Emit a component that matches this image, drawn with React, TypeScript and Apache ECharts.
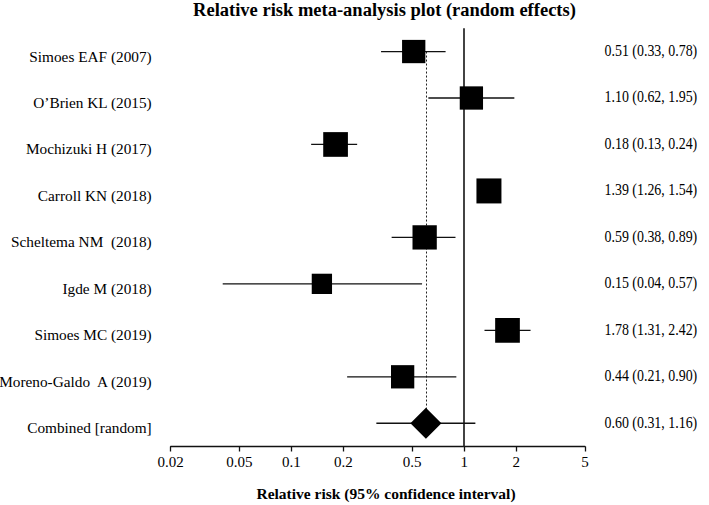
import React, { useEffect, useRef } from "react";
import * as echarts from "echarts";

const studies = [
  "Simoes EAF (2007)",
  "O\u2019Brien KL (2015)",
  "Mochizuki H (2017)",
  "Carroll KN (2018)",
  "Scheltema NM  (2018)",
  "Igde M (2018)",
  "Simoes MC (2019)",
  "Moreno-Galdo  A (2019)",
  "Combined [random]",
];
const relRisk = [0.51, 1.1, 0.18, 1.39, 0.59, 0.15, 1.78, 0.44, 0.6];
const lowerCI = [0.33, 0.62, 0.13, 1.26, 0.38, 0.04, 1.31, 0.21, 0.31];
const upperCI = [0.78, 1.95, 0.24, 1.54, 0.89, 0.57, 2.42, 0.9, 1.16];
const tickValues = [0.02, 0.05, 0.1, 0.2, 0.5, 1, 2, 5];
const pooledIndex = studies.length - 1;

// style: marker box sizes (px)
const boxSizes = [23.3, 23.3, 24.7, 25, 24.3, 20.3, 24.7, 23.3, 31];

const SERIF = "'Liberation Serif', 'Times New Roman', serif";
const fmt = (v: number) => v.toFixed(2);

export default function App() {
  const ref = useRef<HTMLDivElement>(null);
  useEffect(() => {
    if (!ref.current) return;
    const chart = echarts.init(ref.current, null, { renderer: "svg" });
    const data = relRisk.map((v, i) => [v, i, lowerCI[i], upperCI[i]]);
    chart.setOption({
      animation: false,
      backgroundColor: "#fff",
      grid: {
        left: 170.7,
        top: 28.3,
        width: 414.3,
        height: 418.2,
        containLabel: false,
        outerBoundsMode: "none",
      },
      xAxis: {
        type: "log",
        logBase: 10,
        min: 0.02,
        max: 5,
        axisLine: { show: true, lineStyle: { color: "#111", width: 1.3 } },
        axisTick: { show: true, customValues: tickValues, length: 5, lineStyle: { color: "#111", width: 1.3 } },
        axisLabel: {
          customValues: tickValues,
          formatter: (v: number) => String(parseFloat(Number(v).toPrecision(6))),
          color: "#000",
          fontFamily: SERIF,
          fontSize: 15,
          margin: 8,
        },
        splitLine: { show: false },
        minorTick: { show: false },
      },
      yAxis: {
        type: "category",
        data: studies,
        inverse: true,
        axisLine: { show: false },
        axisTick: { show: false },
        splitLine: { show: false },
        axisLabel: { show: false },
      },
      series: [
        {
          type: "custom",
          z: 3,
          data,
          encode: { x: 0, y: 1 },
          markLine: {
            silent: true,
            z: 1,
            symbol: "none",
            label: { show: false },
            data: [
              { xAxis: 1, lineStyle: { color: "#222", width: 1.7, type: "solid" } },
              [
                { coord: [relRisk[pooledIndex], studies[0]], lineStyle: { color: "#222", width: 1, type: [2, 2] } },
                { coord: [relRisk[pooledIndex], studies[pooledIndex]] },
              ],
            ],
          },
          renderItem: (params: any, api: any) => {
            const v = api.value(0);
            const i = api.value(1);
            const lo = api.value(2);
            const hi = api.value(3);
            const c = api.coord([v, i]);
            const pl = api.coord([lo, i]);
            const ph = api.coord([hi, i]);
            const s = boxSizes[i];
            const cs = params.coordSys;
            const children: any[] = [
              {
                type: "line",
                shape: { x1: pl[0], y1: c[1], x2: ph[0], y2: c[1] },
                style: { stroke: "#111", lineWidth: 1.3 },
              },
            ];
            if (i === pooledIndex) {
              children.push({
                type: "polygon",
                shape: {
                  points: [
                    [c[0], c[1] - s / 2],
                    [c[0] + s / 2, c[1]],
                    [c[0], c[1] + s / 2],
                    [c[0] - s / 2, c[1]],
                  ],
                },
                style: { fill: "#000" },
              });
            } else {
              children.push({
                type: "rect",
                shape: { x: c[0] - s / 2, y: c[1] - s / 2, width: s, height: s },
                style: { fill: "#000" },
              });
            }
            children.push({
              type: "text",
              x: cs.x - 19,
              y: c[1] + 4.5,
              style: {
                text: studies[i],
                fill: "#000",
                fontFamily: SERIF,
                fontSize: 15.3,
                align: "right",
                verticalAlign: "middle",
              },
            });
            children.push({
              type: "text",
              x: cs.x + cs.width + 19.5,
              y: c[1] - 1,
              scaleX: 0.87,
              style: {
                text: `${fmt(v)} (${fmt(lo)}, ${fmt(hi)})`,
                fill: "#000",
                fontFamily: SERIF,
                fontSize: 16,
                align: "left",
                verticalAlign: "middle",
              },
            });
            return { type: "group", children };
          },
        },
      ],
      graphic: [
        {
          type: "text",
          x: 384.5,
          y: 9.5,
          style: {
            text: "Relative risk meta-analysis plot (random effects)",
            fill: "#000",
            font: `bold 18.5px ${SERIF}`,
            textAlign: "center",
            textVerticalAlign: "middle",
          },
        },
        {
          type: "text",
          x: 386,
          y: 493,
          style: {
            text: "Relative risk (95% confidence interval)",
            fill: "#000",
            font: `bold 15.5px ${SERIF}`,
            textAlign: "center",
            textVerticalAlign: "middle",
          },
        },
      ],
    });
    return () => chart.dispose();
  }, []);
  return <div ref={ref} style={{ width: 709, height: 505, position: "absolute", left: 0, top: 0 }} />;
}
